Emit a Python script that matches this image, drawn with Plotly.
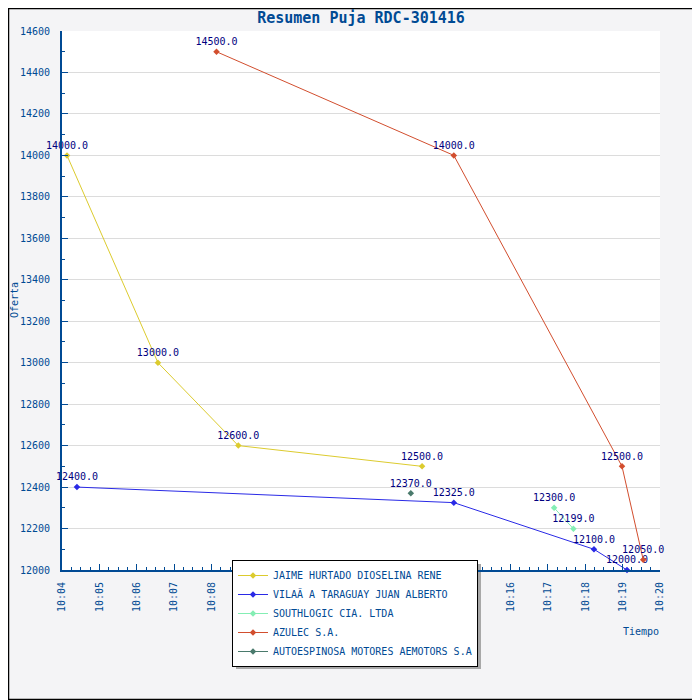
import plotly.graph_objects as go

DAY = "2013-01-01 "

jaime_t = ["10:04:08", "10:06:34", "10:08:43", "10:13:38"]
jaime_v = [14000, 13000, 12600, 12500]

vila_t = ["10:04:24", "10:14:29", "10:18:14", "10:19:07"]
vila_v = [12400, 12325, 12100, 12000]

south_t = ["10:17:10", "10:17:41"]
south_v = [12300, 12199]

azulec_t = ["10:08:08", "10:14:29", "10:18:59", "10:19:33"]
azulec_v = [14500, 14000, 12500, 12050]

auto_t = ["10:13:20"]
auto_v = [12370]

series = [
    ("JAIME HURTADO DIOSELINA RENE", jaime_t, jaime_v, "#dccb2e"),
    ("VILAÃ A TARAGUAY JUAN ALBERTO", vila_t, vila_v, "#2a2ae6"),
    ("SOUTHLOGIC CIA. LTDA", south_t, south_v, "#84eeb4"),
    ("AZULEC S.A.", azulec_t, azulec_v, "#d24e2e"),
    ("AUTOESPINOSA MOTORES AEMOTORS S.A", auto_t, auto_v, "#4a7a6c"),
]

FONT = "DejaVu Sans Mono"
AXC = "#004a94"

fig = go.Figure()
for name, t, v, c in series:
    fig.add_trace(go.Scatter(
        x=[DAY + s for s in t], y=v, name=name,
        mode="lines+markers+text",
        text=[f"{val:.1f}" for val in v],
        textposition="top center",
        textfont=dict(family=FONT, size=10, color="#000080"),
        cliponaxis=False,
        line=dict(color=c, width=1),
        marker=dict(symbol="diamond", size=5, color=c),
    ))

# page has an 8px body margin; layout below is in screen coordinates
OFF = 8
W, H = 700 - OFF, 700 - OFF
PX0, PX1, PY0, PY1 = 62, 660, 31, 570  # plot area on screen
L, R = PX0 - OFF, W - (PX1 - OFF)
T, B = PY0 - OFF, H - (PY1 - OFF)
pw, ph = PX1 - PX0, PY1 - PY0


def px(x):
    return (x - PX0) / pw


def py(y):
    return (PY1 - y) / ph


fig.update_layout(
    width=W, height=H, autosize=False,
    margin=dict(l=L, r=R, t=T, b=B),
    paper_bgcolor="#f4f4f6", plot_bgcolor="#ffffff",
    font=dict(family=FONT, size=10, color=AXC),
    title=dict(text="<b>Resumen Puja RDC-301416</b>", x=0.5, xref="paper",
               xanchor="center", y=1 - 10 / H, yanchor="middle",
               font=dict(family=FONT, size=15, color=AXC)),
    showlegend=True,
    legend=dict(x=px(232), y=py(560), xanchor="left", yanchor="top",
                bgcolor="#ffffff", bordercolor="#000000", borderwidth=1,
                font=dict(family=FONT, size=10, color=AXC),
                tracegroupgap=0, itemwidth=30),
    xaxis=dict(type="date",
               range=[DAY + "10:04:00", DAY + "10:20:00"],
               dtick=60000, tickformat="%H:%M", tickangle=-90,
               ticks="inside", ticklen=6, tickcolor=AXC,
               ticklabelstandoff=6,
               showline=True, linecolor=AXC, linewidth=2,
               showgrid=False, zeroline=False,
               tickfont=dict(family=FONT, size=10, color=AXC),
               minor=dict(dtick=15000, ticks="inside", ticklen=3,
                          tickcolor=AXC, showgrid=False)),
    yaxis=dict(range=[12000, 14600], dtick=200, tickformat="d",
               ticks="inside", ticklen=6, tickcolor=AXC,
               ticklabelstandoff=8,
               showline=True, linecolor=AXC, linewidth=2,
               showgrid=True, gridcolor="#dcdcdc", gridwidth=1,
               zeroline=False,
               tickfont=dict(family=FONT, size=10, color=AXC),
               minor=dict(dtick=100, ticks="inside", ticklen=3,
                          tickcolor=AXC, showgrid=False)),
    annotations=[
        dict(text="Oferta", xref="paper", yref="paper", x=px(14), y=py(300),
             xanchor="center", yanchor="middle",
             showarrow=False, textangle=-90,
             font=dict(family=FONT, size=10, color=AXC)),
        dict(text="Tiempo", xref="paper", yref="paper", x=px(641), y=py(631),
             xanchor="center", yanchor="middle",
             showarrow=False,
             font=dict(family=FONT, size=10, color=AXC)),
    ],
    shapes=[
        dict(type="rect", xref="paper", yref="paper", layer="below",
             x0=px(236), x1=px(481), y0=py(669), y1=py(564),
             fillcolor="#a8a8a8", line=dict(width=0)),
        dict(type="rect", xref="paper", yref="paper", layer="above",
             x0=px(OFF + 0.5), x1=px(699.5), y0=py(699.5), y1=py(OFF + 0.5),
             line=dict(color="#000000", width=1.5)),
    ],
)

fig.write_html("out.html")
